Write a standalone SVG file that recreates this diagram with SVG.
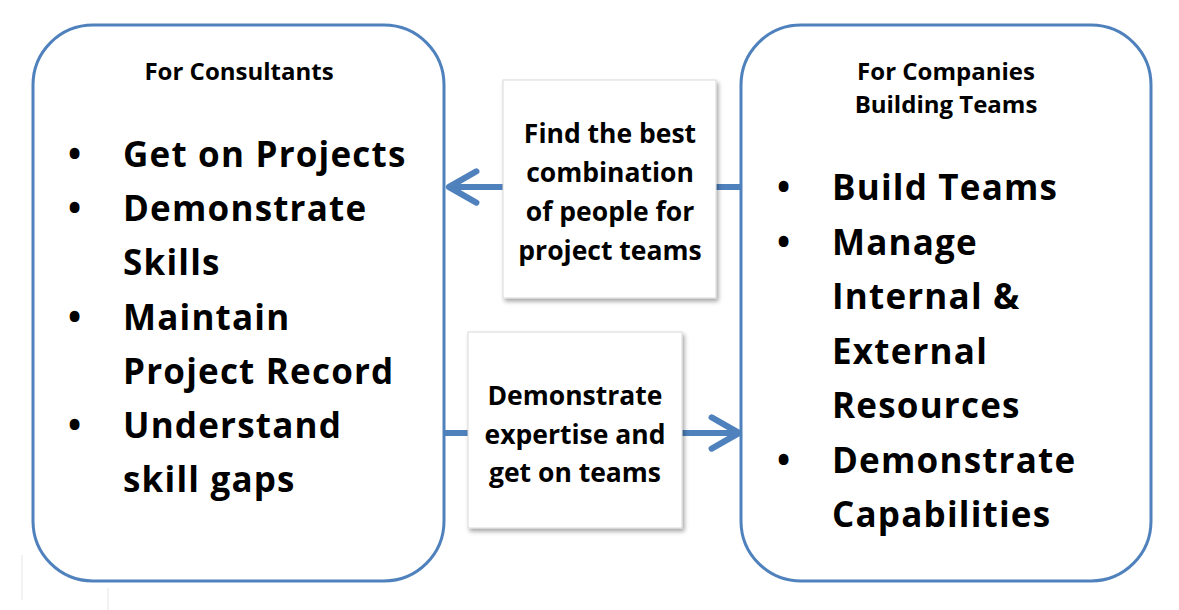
<svg xmlns="http://www.w3.org/2000/svg" width="1179" height="610" viewBox="0 0 1179 610">
<style>
.panel{fill:#fff;stroke:#4f81bd;stroke-width:3}
.mid{fill:#fff;stroke:#d9d9d9;stroke-width:1}
.title{font-family:"Open Sans",Lato,sans-serif;font-weight:bold;font-size:24px;fill:#000;text-anchor:middle}
.item{font-family:"Open Sans",Lato,sans-serif;font-weight:bold;font-size:35px;letter-spacing:1.2px;fill:#000}
.lbl{font-family:"Open Sans",Lato,sans-serif;font-weight:bold;font-size:26.5px;fill:#000;text-anchor:middle}
.conn{stroke:#4f81bd;stroke-width:6;fill:none}
</style>
<defs>
<filter id="sh" x="-10%" y="-10%" width="130%" height="130%">
<feDropShadow dx="2" dy="3" stdDeviation="2" flood-color="#000" flood-opacity="0.35"/>
</filter>
<marker id="ah" viewBox="0 0 10 10" refX="8" refY="5" markerWidth="6.5" markerHeight="6.5" orient="auto" markerUnits="strokeWidth">
<path d="M1,1 L8,5 L1,9" fill="none" stroke="#4f81bd" stroke-width="1.6" stroke-linecap="round" stroke-linejoin="round"/>
</marker>
</defs>
<rect width="1179" height="610" fill="#fff"/>
<g stroke="#eeeeee" stroke-width="1.5">
<line x1="22" y1="555" x2="22" y2="600"/>
<line x1="108" y1="588" x2="108" y2="610"/>
</g>
<g id="connectors">
<line class="conn" x1="742" y1="187" x2="449" y2="187" marker-end="url(#ah)"/>
<line class="conn" x1="445" y1="433" x2="739" y2="433" marker-end="url(#ah)"/>
</g>
<g id="consultants">
<rect class="panel" x="33" y="25" width="411" height="556" rx="60" ry="60"/>
<text class="title" x="239" y="80">For Consultants</text>
<g class="item">
<text x="68" y="167">•</text><text x="123" y="167">Get on Projects</text>
<text x="68" y="221">•</text><text x="123" y="221">Demonstrate</text>
<text x="123" y="275">Skills</text>
<text x="68" y="330">•</text><text x="123" y="330">Maintain</text>
<text x="123" y="384">Project Record</text>
<text x="68" y="438">•</text><text x="123" y="438">Understand</text>
<text x="123" y="492">skill gaps</text>
</g>
</g>
<g id="companies">
<rect class="panel" x="741" y="25" width="410" height="556" rx="60" ry="60"/>
<text class="title" x="946" y="80">For Companies</text>
<text class="title" x="946" y="113">Building Teams</text>
<g class="item">
<text x="777" y="200">•</text><text x="832" y="200">Build Teams</text>
<text x="777" y="255">•</text><text x="832" y="255">Manage</text>
<text x="832" y="309">Internal &amp;</text>
<text x="832" y="364">External</text>
<text x="832" y="418">Resources</text>
<text x="777" y="473">•</text><text x="832" y="473">Demonstrate</text>
<text x="832" y="527">Capabilities</text>
</g>
</g>
<g id="find-best">
<rect class="mid" x="503" y="80" width="213" height="218" filter="url(#sh)"/>
<text class="lbl" x="610" y="143">Find the best</text>
<text class="lbl" x="610" y="182">combination</text>
<text class="lbl" x="610" y="221">of people for</text>
<text class="lbl" x="610" y="260">project teams</text>
</g>
<g id="demonstrate">
<rect class="mid" x="468" y="332" width="214" height="196" filter="url(#sh)"/>
<text class="lbl" x="575" y="405">Demonstrate</text>
<text class="lbl" x="575" y="444">expertise and</text>
<text class="lbl" x="575" y="482">get on teams</text>
</g>
</svg>
